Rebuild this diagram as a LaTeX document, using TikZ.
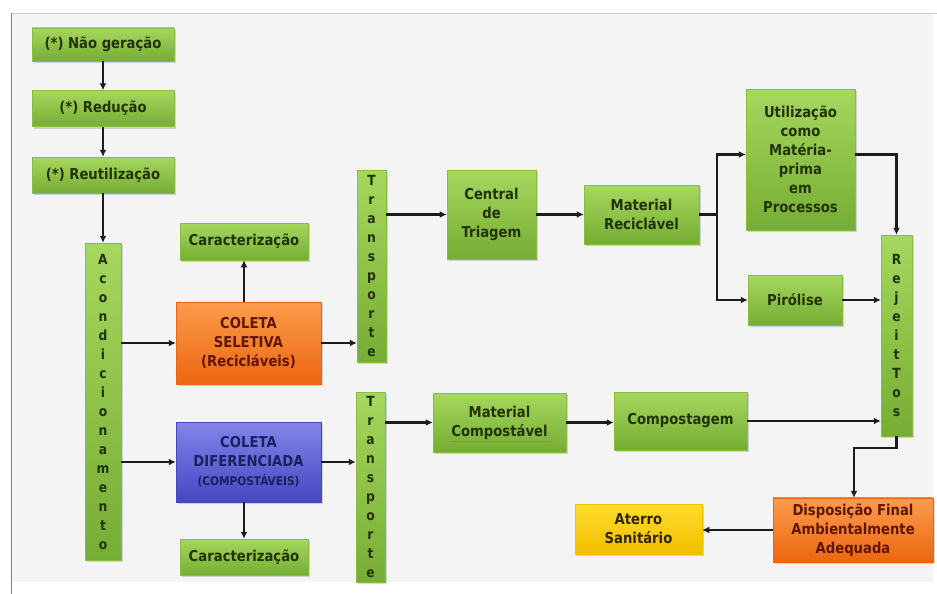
\documentclass[tikz,border=0pt]{standalone}
\usepackage{fontspec}
\newfontfamily\boxfont{DejaVu Sans}[FakeStretch=0.88]
\usetikzlibrary{arrows.meta,shadows,calc}
\definecolor{panel}{HTML}{F4F4F4}
\definecolor{gtop}{HTML}{A6D75E}
\definecolor{gbot}{HTML}{76AD34}
\definecolor{gedge}{HTML}{86BE45}
\definecolor{gtext}{HTML}{22330A}
\definecolor{otop}{HTML}{FB9C4C}
\definecolor{obot}{HTML}{EC6610}
\definecolor{otext}{HTML}{601604}
\definecolor{btop}{HTML}{8484EA}
\definecolor{bbot}{HTML}{4646C2}
\definecolor{btext}{HTML}{1A2060}
\definecolor{ytop}{HTML}{FFDD2E}
\definecolor{ybot}{HTML}{F2BE00}
\definecolor{ytext}{HTML}{332500}
\definecolor{linec}{HTML}{1C1C1C}
\tikzset{
  box/.style={draw=gedge, line width=0.5pt, inner sep=0pt, align=center,
    font=\boxfont\bfseries\fontsize{15}{19}\selectfont,
    drop shadow={opacity=0.3, shadow xshift=1.5pt, shadow yshift=-2pt}},
  gbox/.style={box, top color=gtop, bottom color=gbot, text=gtext},
  obox/.style={box, draw=obot, top color=otop, bottom color=obot, text=otext},
  bbox/.style={box, draw=bbot, top color=btop, bottom color=bbot, text=btext},
  ybox/.style={box, draw=ybot, top color=ytop, bottom color=ybot, text=ytext},
  vbox/.style={gbox, font=\boxfont\bfseries\fontsize{14}{19}\selectfont},
  arr/.style={draw=linec, line width=2.5pt, -{Latex[length=7pt,width=7pt]}},
  plain/.style={draw=linec, line width=2.5pt},
}
\begin{document}
\begin{tikzpicture}[x=1pt,y=-1pt]
\useasboundingbox (0,0) rectangle (937,594);
\fill[white] (0,0) rectangle (937,594);
\fill[panel] (11,13) rectangle (933,582);
\draw[black!20, line width=0.8pt] (11,13) -- (937,13);
\draw[black!50, line width=1pt] (11,13) -- (11,594);

% left column
\node[gbox, minimum width=142pt, minimum height=33pt] (n1) at (103,44.5) {(*) Não geração};
\node[gbox, minimum width=142pt, minimum height=36pt] (n2) at (103,108.5) {(*) Redução};
\node[gbox, minimum width=142pt, minimum height=36pt] (n3) at (103,175) {(*) Reutilização};
\node[vbox, minimum width=36pt, minimum height=317pt] (ac) at (103,401.5)
  {A\\c\\o\\n\\d\\i\\c\\i\\o\\n\\a\\m\\e\\n\\t\\o};

% collection
\node[gbox, minimum width=128pt, minimum height=37pt] (car1) at (244,241.5) {Caracterização};
\node[obox, minimum width=145pt, minimum height=82pt] (cs) at (248.5,343) {COLETA\\SELETIVA\\(Recicláveis)};
\node[bbox, minimum width=145pt, minimum height=80pt] (cd) at (248.5,462)
  {COLETA\\DIFERENCIADA\\{\fontsize{12}{15}\selectfont(COMPOSTÁVEIS)}};
\node[gbox, minimum width=128pt, minimum height=36pt] (car2) at (244,557) {Caracterização};

% transport
\node[vbox, minimum width=29pt, minimum height=192pt] (t1) at (371.5,266) {T\\r\\a\\n\\s\\p\\o\\r\\t\\e};
\node[vbox, minimum width=29pt, minimum height=190pt] (t2) at (370.5,487) {T\\r\\a\\n\\s\\p\\o\\r\\t\\e};

% recyclables branch
\node[gbox, minimum width=89pt, minimum height=89pt] (ct) at (491.5,214.5) {Central\\de\\Triagem};
\node[gbox, minimum width=115pt, minimum height=59pt] (mr) at (641.5,214.5) {Material\\Reciclável};
\node[gbox, minimum width=109pt, minimum height=141pt] (ut) at (800.5,159.5)
  {Utilização\\como\\Matéria-\\prima\\em\\Processos};
\node[gbox, minimum width=94pt, minimum height=50pt] (pi) at (795,300) {Pirólise};
\node[vbox, minimum width=31pt, minimum height=201pt] (rj) at (896.5,335.5) {R\\e\\j\\e\\i\\t\\T\\o\\s};

% compost branch
\node[gbox, minimum width=133pt, minimum height=59pt] (mc) at (499.5,422.5) {Material\\Compostável};
\draw[orange!80!red, line width=0.8pt] ($(mc.center)+(-50,19)$) -- ($(mc.center)+(52,19)$);
\node[gbox, minimum width=133pt, minimum height=58pt] (co) at (680.5,421) {Compostagem};

% final
\node[obox, minimum width=160pt, minimum height=64pt] (df) at (853,530)
  {Disposição Final\\Ambientalmente\\Adequada};
\draw[gedge, line width=1pt] (df.north west) -- (df.north east);
\node[ybox, minimum width=127pt, minimum height=50pt] (at) at (638.5,529) {Aterro\\Sanitário};

% connectors
\draw[arr] (n1.south) -- (n2.north);
\draw[arr] (n2.south) -- (n3.north);
\draw[arr] (n3.south) -- (ac.north);
\draw[arr] (ac.east |- cs.west) -- (cs.west);
\draw[arr] (ac.east |- cd.west) -- (cd.west);
\draw[arr] (car1.south |- cs.north) -- (car1.south);
\draw[arr] (car2.north |- cd.south) -- (car2.north);
\draw[arr] (cs.east) -- (cs.east -| t1.west);
\draw[arr] (cd.east) -- (cd.east -| t2.west);
\draw[arr] (t1.east |- ct.west) -- (ct.west);
\draw[arr] (ct.east) -- (mr.west);
\coordinate (br) at (717,214.5);
\draw[plain] (mr.east) -- (br);
\draw[arr] (br) |- ([yshift=5pt]ut.west);
\draw[arr] (br) |- (pi.west);
\draw[arr] ([yshift=5pt]ut.east) -| (rj.north);
\draw[arr] (pi.east) -- (pi.east -| rj.west);
\draw[arr] (t2.east |- mc.west) -- (mc.west);
\draw[arr] (mc.east) -- (mc.east -| co.west);
\draw[arr] (co.east) -- (co.east -| rj.west);
\coordinate (rjd) at (896.5,448);
\draw[arr] (rj.south) -- (rjd) -| ([xshift=1pt]df.north);
\draw[arr] (df.west) -- (df.west -| at.east);
\end{tikzpicture}
\end{document}
